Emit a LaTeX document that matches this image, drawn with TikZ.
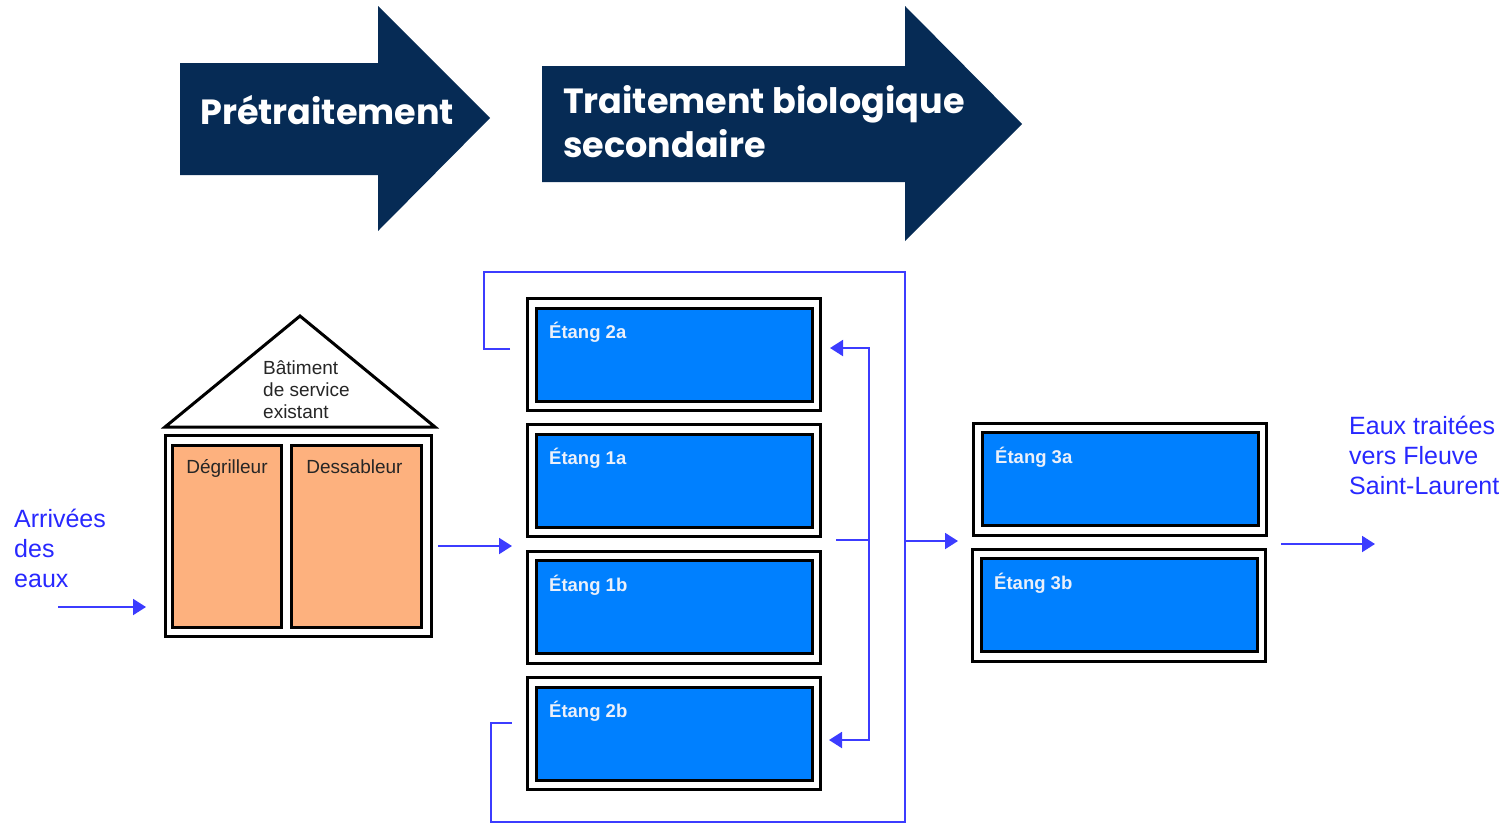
\documentclass[tikz,border=0pt]{standalone}
\usepackage{fontspec}
\setmainfont{Liberation Sans}
\newfontfamily\titlefont{Poppins}
\usetikzlibrary{arrows.meta}
\definecolor{navy}{RGB}{6,43,85}
\definecolor{pondblue}{RGB}{0,128,255}
\definecolor{sand}{RGB}{253,177,126}
\definecolor{flow}{RGB}{60,60,255}
\definecolor{flowtext}{RGB}{40,40,255}
\definecolor{pondtext}{RGB}{235,240,250}
\begin{document}
\begin{tikzpicture}[x=1pt,y=-1pt,
  bigarrow/.style={fill=navy},
  titletext/.style={text=white, font=\titlefont\bfseries\fontsize{35}{44}\selectfont, inner sep=0pt, align=left},
  pondouter/.style={draw=black, line width=3pt, fill=white, minimum width=293pt, minimum height=112pt, inner sep=0pt},
  pondinner/.style={draw=black, line width=3pt, fill=pondblue, minimum width=276pt, minimum height=93pt, inner sep=0pt},
  pondlabel/.style={text=pondtext, font=\bfseries\fontsize{18.5}{22}\selectfont, inner sep=0pt},
  sandbox/.style={draw=black, line width=3pt, fill=sand, minimum height=182pt, inner sep=0pt},
  boxlabel/.style={text=black!85, font=\fontsize{19}{22}\selectfont, inner sep=0pt, align=left},
  flowline/.style={draw=flow, line width=2pt},
  flowarr/.style={flowline, -{Triangle[length=13pt,width=16pt]}},
  flowlabel/.style={text=flowtext, font=\fontsize{25}{30}\selectfont, inner sep=0pt, align=left}
]
\useasboundingbox (0,0) rectangle (1506,823);

% big stage arrows
\fill[bigarrow] (180,63) -- (378,63) -- (378,6) -- (490,118) -- (378,231) -- (378,175) -- (180,175) -- cycle;
\node[titletext, anchor=base west] (pretxt) at (200,124) {Prétraitement};
\fill[bigarrow] (542,66) -- (905,66) -- (905,6) -- (1022,124) -- (905,241) -- (905,182) -- (542,182) -- cycle;
\node[titletext, anchor=base west] (biotxt) at (563,157) {Traitement biologique\\secondaire};

% house
\draw[line width=3pt, fill=white, line join=miter] (300,316) -- (435,427) -- (165,427) -- cycle;
\node[boxlabel, anchor=base west] (bat) at (263,418) {Bâtiment\\de service\\existant};
\node[draw=black, line width=3pt, fill=white, minimum width=265.5pt, minimum height=201pt, inner sep=0pt] (house) at (298.25,536) {};
\node[sandbox, minimum width=109pt] (deg) at (227,536.5) {};
\node[sandbox, minimum width=130pt] (des) at (356.5,536.5) {};
\node[boxlabel, anchor=base] (degtxt) at ([shift={(0,29.5)}]deg.north) {Dégrilleur};
\node[boxlabel, anchor=base] (destxt) at ([shift={(-2,29.5)}]des.north) {Dessableur};

% ponds column 1
\foreach \nm/\yy/\lab in {p2a/354.5/2a, p1a/480.5/1a, p1b/607/1b, p2b/733.5/2b}{
  \node[pondouter] (\nm o) at (674,\yy) {};
  \node[pondinner] (\nm) at (674,\yy) {};
  \node[pondlabel, anchor=base west] (\nm t) at ([shift={(14.5,32)}]\nm.north west) {Étang \lab};
}
% ponds column 2
\foreach \nm/\xx/\yy/\lab in {p3a/1120/479/3a, p3b/1119/605/3b}{
  \node[pondouter] (\nm o) at (\xx,\yy) {};
  \node[pondinner] (\nm) at (\xx,\yy) {};
  \node[pondlabel, anchor=base west] (\nm t) at ([shift={(14.5,32)}]\nm.north west) {Étang \lab};
}

% labels
\node[flowlabel, anchor=base west] (arrtxt) at (14,587) {Arrivées\\des\\eaux};
\node[flowlabel, anchor=base west] (outtxt) at (1349,494) {Eaux traitées\\vers Fleuve\\Saint-Laurent};

% connectors
\coordinate (inA) at (58,607);
\coordinate (inB) at (146,607);
\draw[flowarr] (inA) -- (inB);
\coordinate (hA) at (438,546);
\coordinate (hB) at (512,546);
\draw[flowarr] (hA) -- (hB);
\coordinate (l2a) at (510,349);
\coordinate (ltop) at (484,272);
\coordinate (lbot) at (905,822);
\coordinate (l2bc) at (491,723);
\coordinate (l2b) at (512,723);
\draw[flowline] (l2a) -| (ltop) -| (lbot) -| (l2bc) -- (l2b);
\coordinate (m1) at (905,541);
\coordinate (m2) at (958,541);
\draw[flowarr] (m1) -- (m2);
\coordinate (b0) at (836,540);
\coordinate (b1) at (869,540);
\coordinate (bt) at (830,348);
\coordinate (bb) at (829,740);
\draw[flowline] (b0) -- (b1);
\draw[flowarr] (b1) |- (bt);
\draw[flowarr] (b1) |- (bb);
\coordinate (oA) at (1281,544);
\coordinate (oB) at (1375,544);
\draw[flowarr] (oA) -- (oB);
\end{tikzpicture}
\end{document}
